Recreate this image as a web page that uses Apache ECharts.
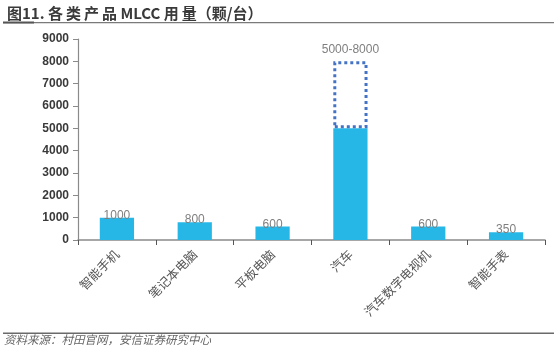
<!DOCTYPE html>
<html>
<head>
<meta charset="utf-8">
<script src="https://cdn.jsdelivr.net/npm/echarts@6/dist/echarts.min.js"></script>
<style>
  html, body { margin: 0; padding: 0; background: #fff; }
  #chart { width: 554px; height: 349px; }
</style>
</head>
<body>
<div id="chart"></div>
<script>
// MLCC count per device (pieces per unit)
const categories = ['智能手机', '笔记本电脑', '平板电脑', '汽车', '汽车数字电视机', '智能手表'];
const baseValues = [1000, 800, 600, 5000, 600, 350];
// Upper bound of the range for products quoted as a range (automobile: 5000-8000)
const rangeTop = [null, null, null, 8000, null, null];
const yTicks = [0, 1000, 2000, 3000, 4000, 5000, 6000, 7000, 8000, 9000];

const rangeExtra = rangeTop.map((t, i) => (t == null ? null : t - baseValues[i]));

const chart = echarts.init(document.getElementById('chart'), null, { renderer: 'canvas' });

const cjk = '"Noto Sans CJK SC", sans-serif';
const latin = '"Liberation Sans", Arial, sans-serif';

chart.setOption({
  animation: false,
  title: {
    text: '图11. 各\u2009类\u2009产\u2009品 MLCC 用\u2009量（颗/台）',
    left: 2,
    top: 1,
    textStyle: { fontFamily: cjk, fontSize: 15, fontWeight: 'bold', color: '#3a3a3a' }
  },
  graphic: [
    { type: 'rect', shape: { x: 3, y: 22, width: 551, height: 1.2 }, style: { fill: '#7a7a7a' } },
    { type: 'rect', shape: { x: 3, y: 21.5, width: 31, height: 2 }, style: { fill: '#555' } },
    { type: 'rect', shape: { x: 3, y: 332.5, width: 551, height: 1.5 }, style: { fill: '#6a6a6a' } },
    {
      type: 'text', left: 4, top: 334,
      style: {
        text: '资料来源：村田官网，安信证券研究中心',
        font: 'italic 11.5px "Noto Sans CJK SC", sans-serif',
        fill: '#666'
      }
    }
  ],
  grid: { left: 78, right: 9, top: 39, bottom: 109, containLabel: false },
  xAxis: {
    type: 'category',
    data: categories,
    axisLine: { lineStyle: { color: '#8a8a8a', width: 1.5 } },
    axisTick: { show: true, alignWithLabel: false, length: 5, lineStyle: { color: '#555' } },
    axisLabel: {
      interval: 0,
      rotate: 45,
      margin: 12,
      fontFamily: cjk,
      fontSize: 12.5,
      color: '#555'
    }
  },
  yAxis: {
    type: 'value',
    min: 0,
    max: 9000,
    interval: 1000,
    splitLine: { show: false },
    axisLine: { show: true, lineStyle: { color: '#8a8a8a', width: 1.2 } },
    axisTick: { show: true, length: 5, lineStyle: { color: '#8a8a8a' } },
    axisLabel: {
      fontFamily: latin,
      fontSize: 12,
      fontWeight: 'bold',
      color: '#3a3a3a',
      margin: 9,
      formatter: v => (yTicks.includes(v) ? String(v) : '')
    }
  },
  series: [
    {
      type: 'bar',
      stack: 'mlcc',
      data: baseValues,
      barWidth: '44%',
      itemStyle: { color: '#27B7E7' },
      label: {
        show: true,
        position: 'insideTop',
        distance: -8,
        fontFamily: latin,
        fontSize: 12,
        color: '#7f7f7f',
        formatter: p => (rangeTop[p.dataIndex] == null ? String(p.value) : '')
      },
      z: 2
    },
    {
      type: 'bar',
      stack: 'mlcc',
      data: rangeExtra,
      barWidth: '44%',
      itemStyle: {
        color: 'rgba(255,255,255,0)',
        borderColor: '#4472C4',
        borderWidth: 3,
        borderType: [3, 3]
      },
      label: {
        show: true,
        position: 'top',
        distance: 6,
        fontFamily: latin,
        fontSize: 12,
        color: '#7f7f7f',
        formatter: p => baseValues[p.dataIndex] + '-' + rangeTop[p.dataIndex]
      },
      z: 3
    }
  ]
});
</script>
</body>
</html>
